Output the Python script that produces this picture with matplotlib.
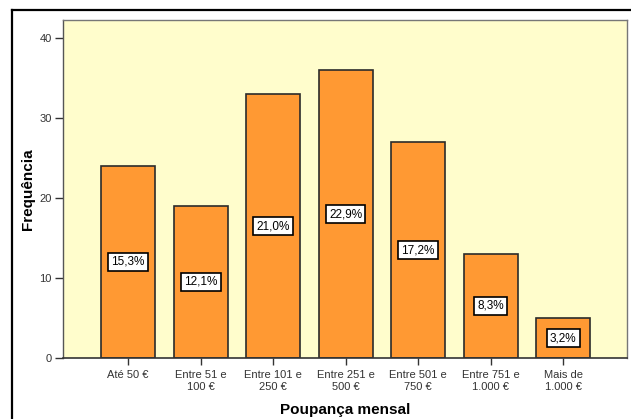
import matplotlib
matplotlib.use("Agg")
import matplotlib.pyplot as plt
from matplotlib.lines import Line2D

plt.rcParams['font.family'] = ['Liberation Sans', 'DejaVu Sans']

categories = ["Até 50 €", "Entre 51 e\n100 €", "Entre 101 e\n250 €", "Entre 251 e\n500 €",
              "Entre 501 e\n750 €", "Entre 751 e\n1.000 €", "Mais de\n1.000 €"]
frequencies = [24, 19, 33, 36, 27, 13, 5]
percent_labels = ["15,3%", "12,1%", "21,0%", "22,9%", "17,2%", "8,3%", "3,2%"]
y_ticks = [0, 10, 20, 30, 40]

W, H = 631, 419
fig = plt.figure(figsize=(W / 100, H / 100), dpi=100)
fig.patch.set_facecolor('white')

ax = fig.add_axes([63 / W, (H - 358) / H, (627 - 63) / W, (358 - 20) / H])
ax.set_facecolor('#FFFDCC')

x = list(range(len(categories)))
bars = ax.bar(x, frequencies, width=0.745, color='#FF9933', edgecolor='#2b2b2b', linewidth=1.2, zorder=2)

for xi, v, lab in zip(x, frequencies, percent_labels):
    ax.text(xi, v / 2, lab, ha='center', va='center', fontsize=8.5, color='black', zorder=3,
            bbox=dict(boxstyle='square,pad=0.28', facecolor='white', edgecolor='black', linewidth=1.2))

ax.set_xlim(-0.897, 6.88)
ax.set_ylim(0, 42.25)
ax.set_yticks(y_ticks)
ax.set_xticks(x)
ax.set_xticklabels(categories, fontsize=8, color='#333333', linespacing=1.25)
ax.tick_params(axis='y', labelsize=8, colors='#333333', length=6, width=1, direction='out', pad=2)
ax.tick_params(axis='x', length=5, width=1, direction='out', pad=3.5, colors='#333333')
for t in ax.get_xticklabels() + ax.get_yticklabels():
    t.set_color('#333333')

for side in ['top', 'right']:
    ax.spines[side].set_color('#777777')
    ax.spines[side].set_linewidth(1.0)
ax.spines['left'].set_color('#555555')
ax.spines['bottom'].set_color('#333333')
ax.spines['left'].set_linewidth(1.0)
ax.spines['bottom'].set_linewidth(1.2)

ax.set_xlabel("Poupança mensal", fontsize=11, fontweight='bold', labelpad=8)
ax.set_ylabel("Frequência", fontsize=11, fontweight='bold', labelpad=3)

# outer black frame (left and top edges)
fig.add_artist(Line2D([11.5 / W, 11.5 / W], [0, (H - 10) / H], color='black', linewidth=1.6, transform=fig.transFigure))
fig.add_artist(Line2D([11.5 / W, 1.0], [(H - 10.5) / H, (H - 10.5) / H], color='black', linewidth=1.6, transform=fig.transFigure))

fig.savefig("out.png", dpi=100)
